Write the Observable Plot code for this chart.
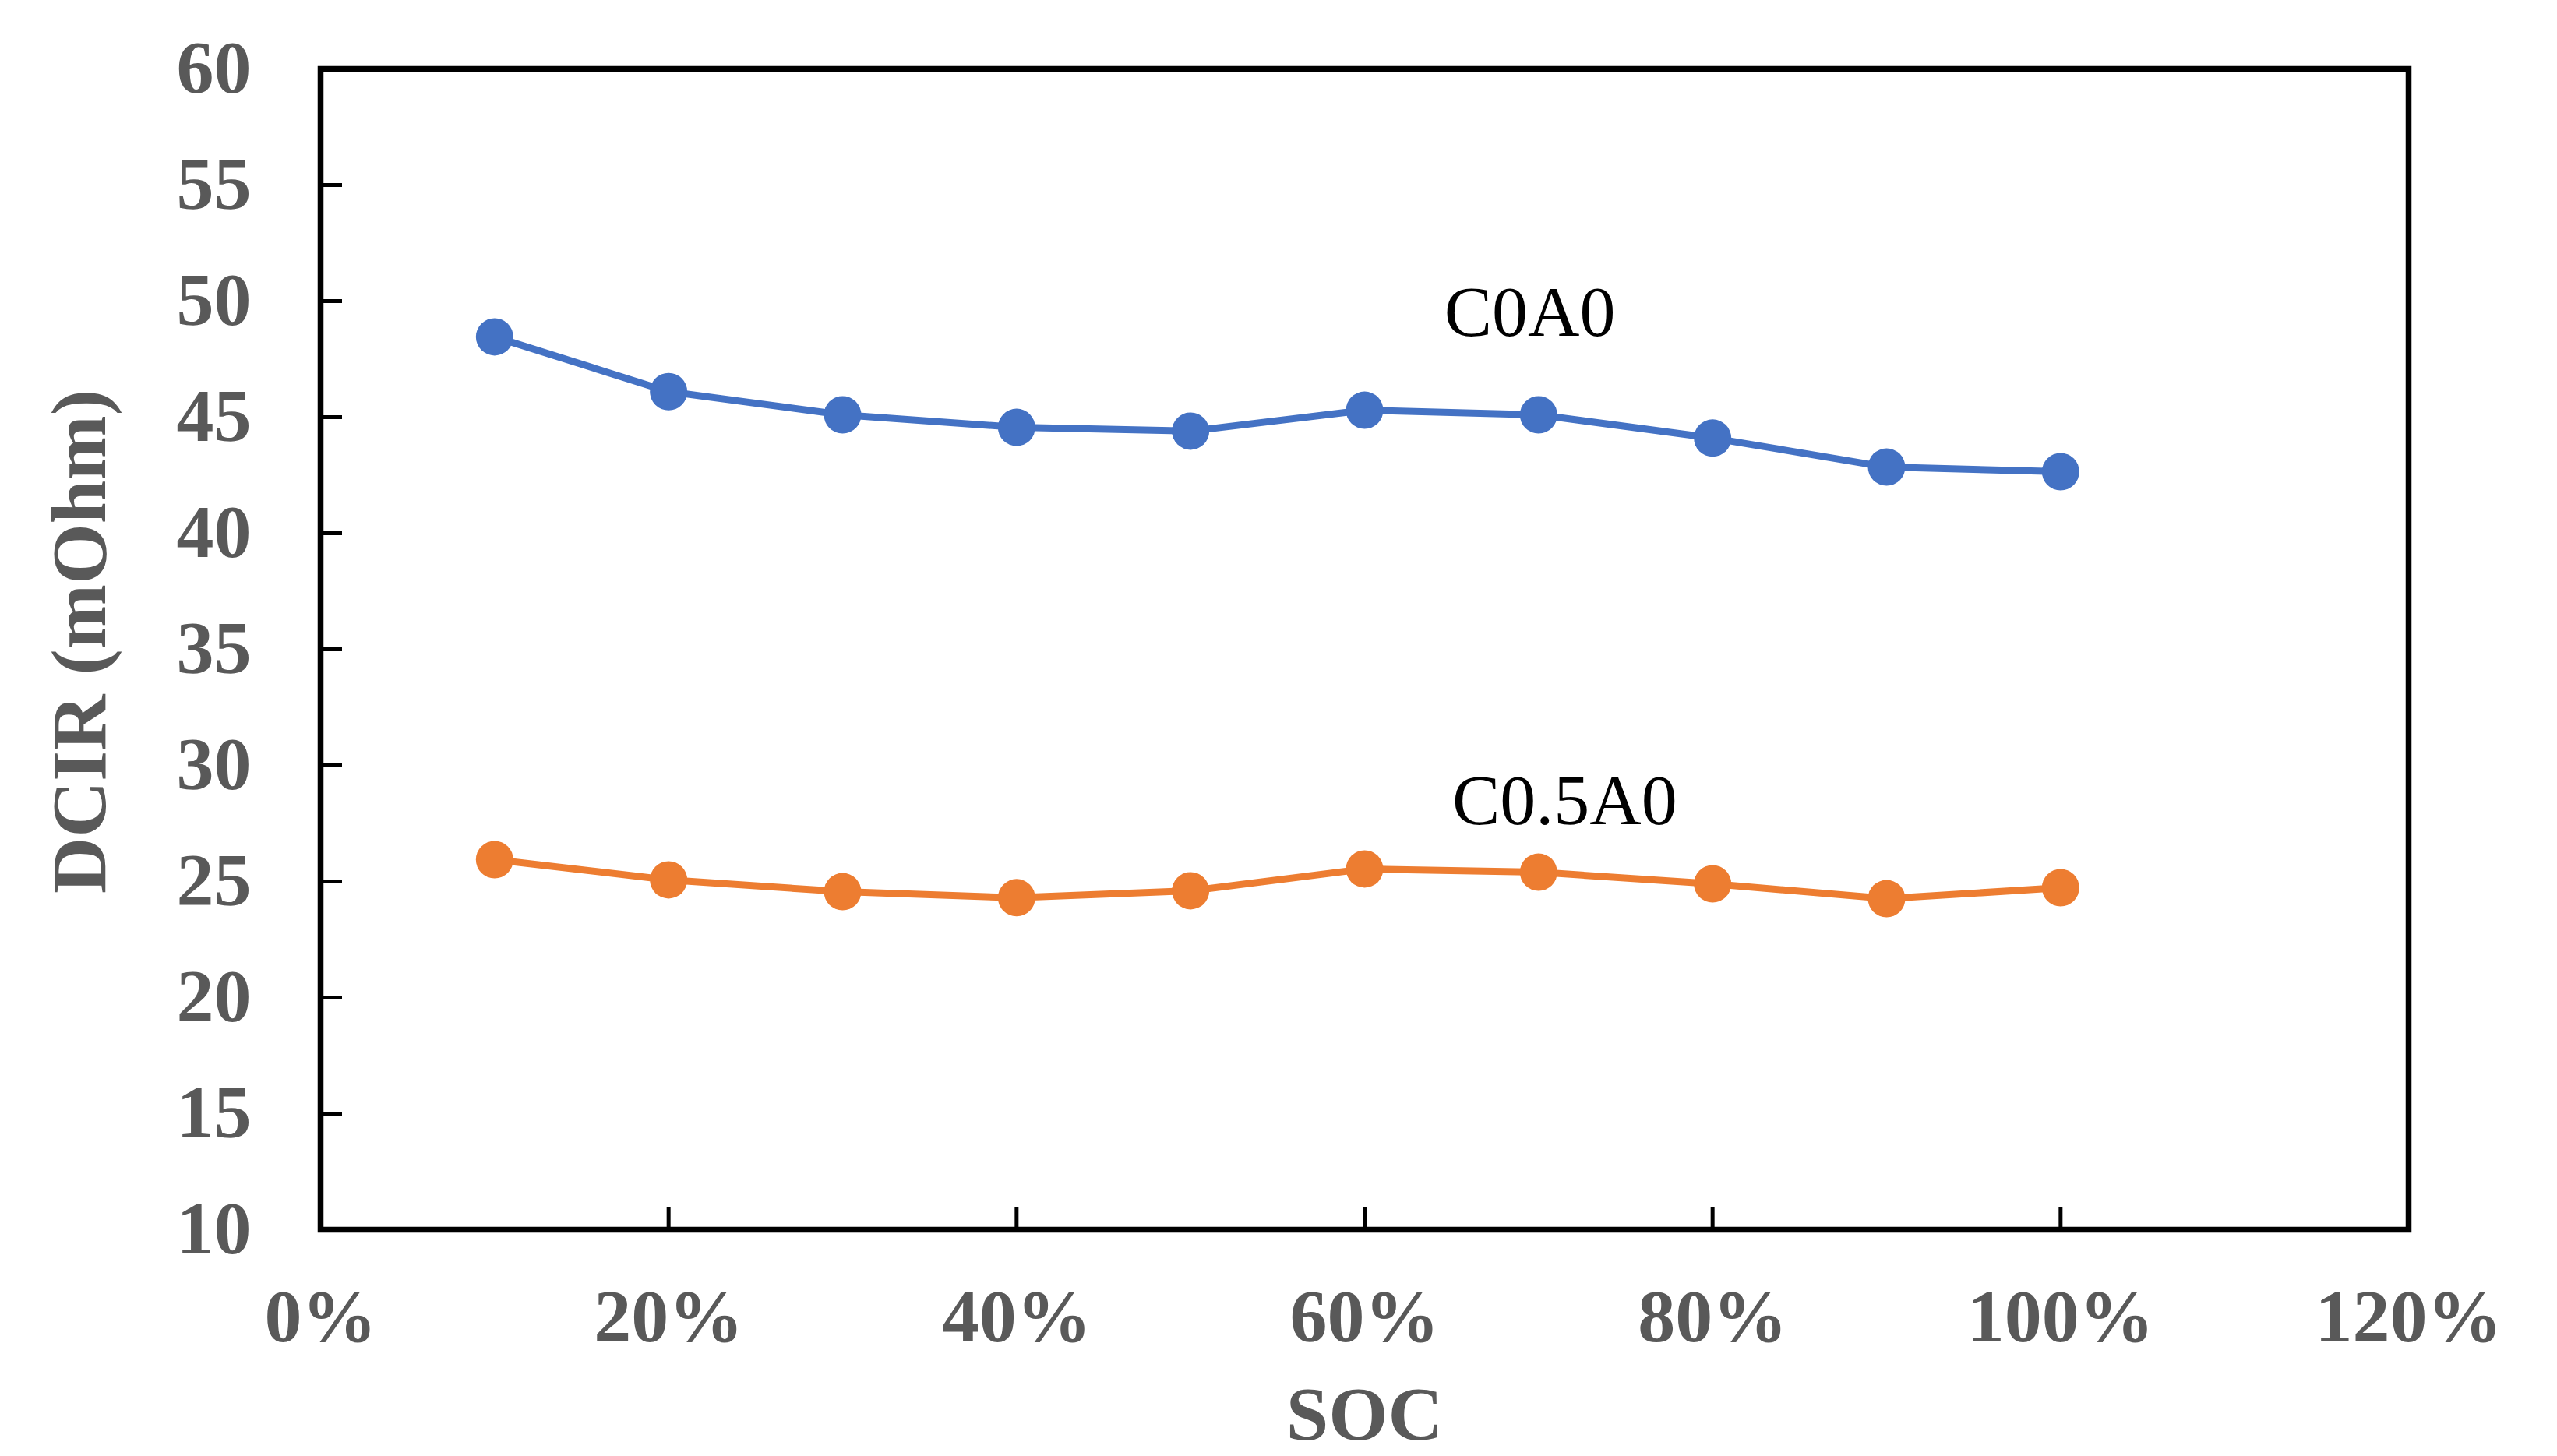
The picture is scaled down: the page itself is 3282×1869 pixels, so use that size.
<!DOCTYPE html>
<html>
<head>
<meta charset="utf-8">
<script src="https://cdn.jsdelivr.net/npm/d3@7"></script>
<script src="https://cdn.jsdelivr.net/npm/@observablehq/plot@0.6"></script>
<style>
  html, body { margin: 0; padding: 0; background: #fff; overflow: hidden; }
</style>
</head>
<body>
<div id="chart"></div>
<script>
// ---- data ----
const soc = [0.1, 0.2, 0.3, 0.4, 0.5, 0.6, 0.7, 0.8, 0.9, 1.0];
const dcirC0A0 = [48.46, 46.1, 45.1, 44.56, 44.4, 45.3, 45.1, 44.1, 42.85, 42.65];
const dcirC05A0 = [25.94, 25.07, 24.56, 24.3, 24.6, 25.54, 25.4, 24.9, 24.26, 24.73];
const seriesNames = ["C0A0", "C0.5A0"];
const seriesColors = ["#4472C4", "#ED7D31"];
const xTicks = [0, 0.2, 0.4, 0.6, 0.8, 1.0, 1.2];
const yTicks = [10, 15, 20, 25, 30, 35, 40, 45, 50, 55, 60];
const labelSoc = [0.695, 0.715];
const labelDcir = [49.5, 28.47];
const xTitle = "SOC";
const yTitle = "DCIR (mOhm)";

// ---- tables built from the arrays ----
const rows = [];
[dcirC0A0, dcirC05A0].forEach((vals, i) => {
  soc.forEach((s, j) => rows.push({series: seriesNames[i], soc: s, dcir: vals[j]}));
});
const labels = seriesNames.map((n, i) => ({series: n, soc: labelSoc[i], dcir: labelDcir[i]}));

const axisFont = {fontFamily: "Liberation Serif", fontWeight: "bold", fontSize: 96, fill: "#595959"};

const chart = Plot.plot({
  width: 3282,
  height: 1869,
  marginLeft: 411,
  marginRight: 191,
  marginTop: 88,
  marginBottom: 291,
  style: {fontFamily: "Liberation Serif", background: "white", overflow: "visible"},
  x: {domain: [0, 1.2]},
  y: {domain: [10, 60]},
  color: {domain: seriesNames, range: seriesColors},
  marks: [
    // inward tick marks
    Plot.axisY(yTicks, {anchor: "left", tickSize: 28, dx: 28, tickFormat: () => "", stroke: "black", strokeWidth: 5, label: null}),
    Plot.axisX(xTicks, {anchor: "bottom", tickSize: 28, dy: -28, tickFormat: () => "", stroke: "black", strokeWidth: 5, label: null}),
    // tick labels
    Plot.axisY(yTicks, {anchor: "left", tickSize: 0, tickPadding: 89, tickFormat: d3.format("d"), label: null, ...axisFont}),
    Plot.axisX(xTicks, {anchor: "bottom", tickSize: 0, tickPadding: 75, tickFormat: d3.format(".0%"), label: null, ...axisFont}),
    // axis titles
    Plot.text([yTitle], {text: d => d, frameAnchor: "left", textAnchor: "middle", dx: -309, dy: -10, rotate: -90, lineAnchor: "middle", ...axisFont, fontSize: 100}),
    Plot.text([xTitle], {text: d => d, frameAnchor: "bottom", textAnchor: "middle", dy: 200, lineAnchor: "top", ...axisFont, fontSize: 98}),
    Plot.frame({stroke: "black", strokeWidth: 7.5}),
    // series
    Plot.line(rows, {x: "soc", y: "dcir", z: "series", stroke: "series", strokeWidth: 9}),
    Plot.dot(rows, {x: "soc", y: "dcir", fill: "series", r: 24, stroke: null}),
    // series labels
    Plot.text(labels, {x: "soc", y: "dcir", text: "series", fontFamily: "Liberation Serif", fontSize: 92, fill: "black", lineAnchor: "middle"})
  ]
});
document.getElementById("chart").appendChild(chart);
</script>
</body>
</html>
